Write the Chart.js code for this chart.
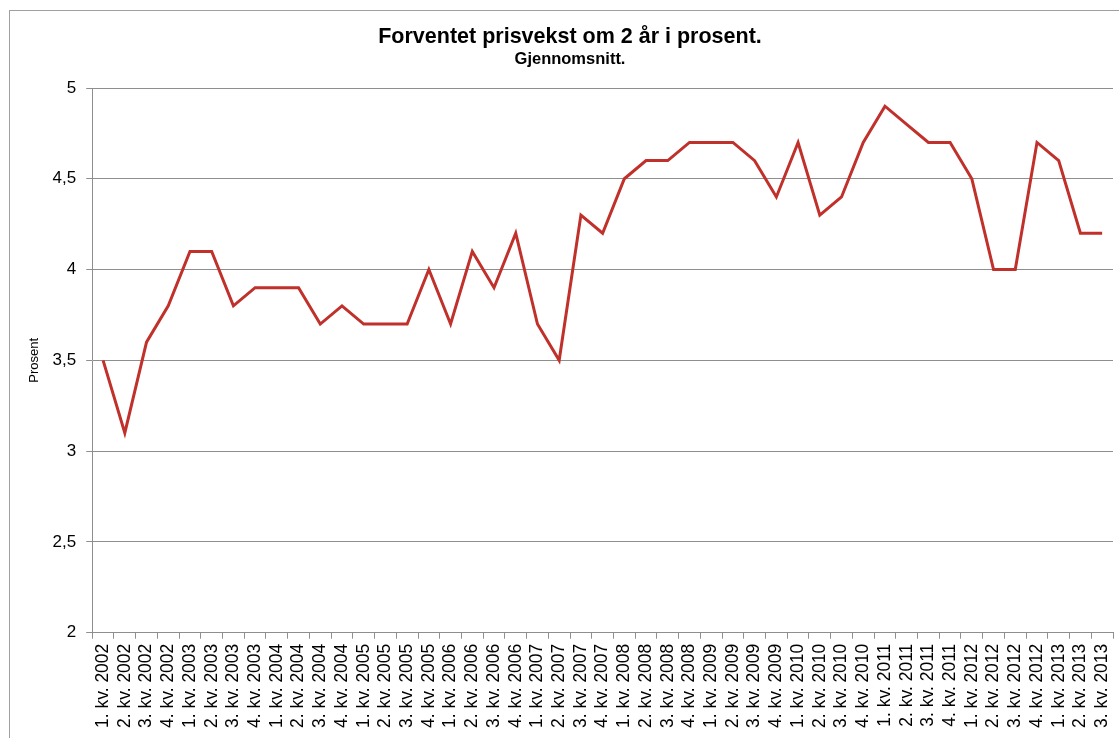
<!DOCTYPE html>
<html>
<head>
<meta charset="utf-8">
<script src="https://cdn.jsdelivr.net/npm/chart.js@4/dist/chart.umd.min.js"></script>
<style>
  html, body { margin: 0; padding: 0; background: #fff; }
  #wrap { position: relative; width: 1119px; height: 738px; overflow: hidden; }
  #frame { position: absolute; left: 9px; top: 10px; width: 1300px; height: 900px; border: 1px solid #a0a0a0; }
  #chart { position: absolute; left: 0; top: 0; }
</style>
</head>
<body>
<div id="wrap">
  <div id="frame"></div>
  <canvas id="chart" width="1119" height="738"></canvas>
</div>
<script>
const years = ['2002', '2003', '2004', '2005', '2006', '2007', '2008', '2009', '2010', '2011', '2012', '2013'];
const quarters = ['1. kv.', '2. kv.', '3. kv.', '4. kv.'];

// 1. kv. 2002 .. 3. kv. 2013
const labels = [];
years.forEach((y) => {
  quarters.forEach((q) => {
    if (labels.length < 47) labels.push(q + ' ' + y);
  });
});

const expected = [
  3.5, 3.1, 3.6, 3.8,
  4.1, 4.1, 3.8, 3.9,
  3.9, 3.9, 3.7, 3.8,
  3.7, 3.7, 3.7, 4.0,
  3.7, 4.1, 3.9, 4.2,
  3.7, 3.5, 4.3, 4.2,
  4.5, 4.6, 4.6, 4.7,
  4.7, 4.7, 4.6, 4.4,
  4.7, 4.3, 4.4, 4.7,
  4.9, 4.8, 4.7, 4.7,
  4.5, 4.0, 4.0, 4.7,
  4.6, 4.2, 4.2
];

const font = "'Liberation Sans', Arial, sans-serif";
const gridColor = '#8e8e8e';

new Chart(document.getElementById('chart'), {
  type: 'line',
  data: {
    labels: labels,
    datasets: [{
      label: 'Forventet prisvekst',
      data: expected,
      borderColor: '#c0312b',
      borderWidth: 3,
      pointRadius: 0,
      tension: 0,
      fill: false
    }]
  },
  options: {
    responsive: false,
    animation: false,
    layout: { padding: { left: 27, right: 6, top: 0, bottom: 5 } },
    plugins: {
      legend: { display: false },
      tooltip: { enabled: false },
      title: {
        display: true,
        text: 'Forventet prisvekst om 2 år i prosent.',
        color: '#000',
        font: { family: font, size: 21.5, weight: 'bold' },
        padding: { top: 24, bottom: 0 }
      },
      subtitle: {
        display: true,
        text: 'Gjennomsnitt.',
        color: '#000',
        font: { family: font, size: 16.5, weight: 'bold' },
        padding: { top: 0, bottom: 18.4 }
      }
    },
    scales: {
      x: {
        offset: true,
        // rotated labels add side padding we don't want
        afterFit: (scale) => {
          scale.paddingLeft = 0;
          scale.paddingRight = 0;
        },
        grid: {
          offset: true,
          drawOnChartArea: false,
          drawTicks: true,
          tickLength: 6,
          color: gridColor
        },
        border: { color: gridColor, width: 1 },
        ticks: {
          autoSkip: false,
          minRotation: 90,
          maxRotation: 90,
          color: '#000',
          padding: 5,
          font: { family: font, size: 17.5 }
        }
      },
      y: {
        min: 2,
        max: 5,
        ticks: {
          stepSize: 0.5,
          color: '#000',
          padding: 10,
          font: { family: font, size: 17 },
          callback: (v) => String(v).replace('.', ',')
        },
        grid: {
          color: gridColor,
          tickLength: 6,
          lineWidth: 1
        },
        border: { color: gridColor, width: 1 },
        title: {
          display: true,
          text: 'Prosent',
          color: '#000',
          font: { family: font, size: 13 },
          padding: { top: 0, bottom: 0 }
        }
      }
    }
  }
});
</script>
</body>
</html>
